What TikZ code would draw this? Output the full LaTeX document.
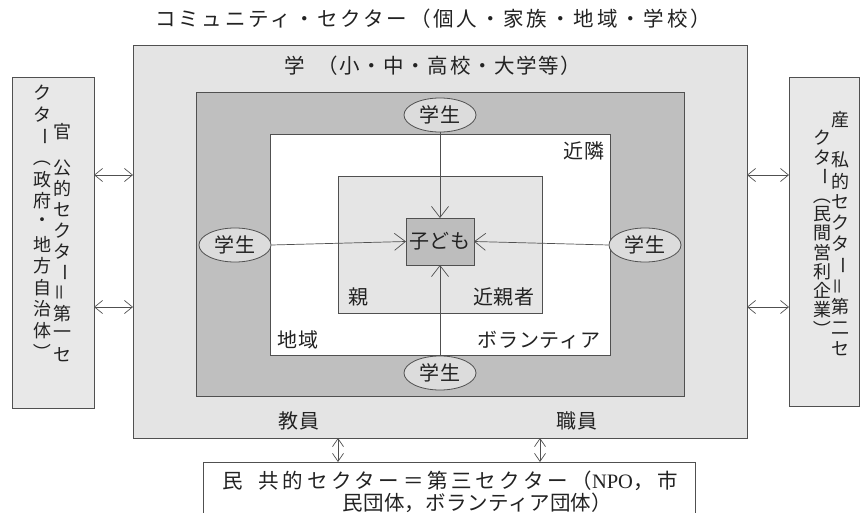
\documentclass[tikz,border=0pt]{standalone}
\usepackage{fontspec}
\setmainfont{Noto Sans CJK JP}
\newfontfamily\latinfont{Liberation Serif}
\usepackage{graphicx}
\usetikzlibrary{arrows.meta,shapes.geometric}
\definecolor{linec}{HTML}{505050}
\definecolor{txtc}{HTML}{222222}
\definecolor{outerfill}{HTML}{E4E4E4}
\definecolor{darkfill}{HTML}{BFBFBF}
\definecolor{oyafill}{HTML}{E5E5E5}
\definecolor{kidfill}{HTML}{BDBDBD}
\definecolor{sidefill}{HTML}{E8E8E8}
\definecolor{ellfill}{HTML}{DCDCDC}
\newcommand\VBar{\rotatebox[origin=c]{-90}{ー}}
\newcommand\VEq{\rotatebox[origin=c]{90}{＝}}
\newcommand\VPl{\rotatebox[origin=c]{-90}{（}}
\newcommand\VPr{\rotatebox[origin=c]{-90}{）}}
\newcommand\tfont{\fontsize{20.5}{24}\selectfont\addfontfeature{LetterSpace=14}}
\newcommand\mafont{\fontsize{20.5}{24}\selectfont\addfontfeature{LetterSpace=18}}
\newcommand\mbfont{\fontsize{20.5}{24}\selectfont\addfontfeature{LetterSpace=2}}
\newcommand\gfont{\fontsize{20.5}{24}\selectfont\addfontfeature{LetterSpace=8}}
\newcommand\lfont{\fontsize{20}{24}\selectfont\addfontfeature{LetterSpace=4}}
\newcommand\sfont{\fontsize{18}{20}\selectfont}
\tikzset{
  box/.style={draw=linec, line width=0.8pt, inner sep=0pt, outer sep=0pt, anchor=north west},
  lbl/.style={inner sep=0pt, text=txtc, font=\lfont},
  vch/.style={inner sep=0pt, text=txtc, font=\sfont},
  stud/.style={ellipse, draw=linec, line width=0.8pt, fill=ellfill, minimum width=72pt, minimum height=34pt, inner sep=0pt, text=txtc, font=\lfont},
  arr/.style={draw=linec, line width=0.7pt, -{Straight Barb[length=11pt,width=17pt,line width=0.7pt]}},
  darr/.style={draw=linec, line width=0.7pt, {Straight Barb[length=8pt,width=13pt,line width=0.7pt]}-{Straight Barb[length=8pt,width=13pt,line width=0.7pt]}},
  varr/.style={draw=linec, line width=0.7pt, {Straight Barb[length=8pt,width=11pt,line width=0.7pt]}-{Straight Barb[length=8pt,width=11pt,line width=0.7pt]}}
}
\begin{document}
\begin{tikzpicture}[x=1pt,y=-1pt]
\clip (0,0) rectangle (862,513);
\fill[white] (0,0) rectangle (862,513);
% title
\node[lbl, font=\tfont] (title) at (433,19) {コミュニティ・セクター（個人・家族・地域・学校）};
% boxes
\node[box, fill=outerfill, minimum width=614pt, minimum height=393pt] (gaku) at (133,45) {};
\node[box, fill=darkfill, minimum width=488pt, minimum height=304pt] (dark) at (196,92) {};
\node[box, fill=white, minimum width=340pt, minimum height=221pt] (chiiki) at (270,134) {};
\node[box, fill=oyafill, minimum width=204pt, minimum height=137pt] (oya) at (338,176) {};
\node[box, fill=kidfill, minimum width=68pt, minimum height=47pt] (kid) at (406,218) {};
\node[lbl] (kidlbl) at (kid.center) {子ども};
\node[box, fill=sidefill, minimum width=82pt, minimum height=331pt] (kan) at (12,77) {};
\node[box, fill=sidefill, minimum width=70pt, minimum height=329pt] (san) at (789,77) {};
\node[box, fill=white, minimum width=492pt, minimum height=70pt] (min) at (203,462) {};
% labels
\node[lbl, font=\gfont] (gakulbl) at (433,66) {学\hspace{12pt}（小・中・高校・大学等）};
\node[lbl] (kinrin) at (584,151) {近隣};
\node[lbl] (oyalbl) at (358,297) {親};
\node[lbl] (kinshin) at (504,297) {近親者};
\node[lbl] (chiikilbl) at (298,340) {地域};
\node[lbl] (vol) at (539,340) {ボランティア};
\node[lbl] (kyoin) at (299,421) {教員};
\node[lbl] (shokuin) at (577,421) {職員};
% students
\node[stud] (st1) at (440,115) {学生};
\node[stud] (st2) at (235,245) {学生};
\node[stud] (st3) at (645,245) {学生};
\node[stud] (st4) at (440,373) {学生};
% arrows to child
\draw[arr] (st1.south) -- (kid.north);
\draw[arr] (st2.east) -- (kid.west);
\draw[arr] (st3.west) -- (kid.east);
\draw[arr] (st4.north) -- (kid.south);
% side arrows
\draw[darr] (kan.east |- 0,175) -- (gaku.west |- 0,175);
\draw[darr] (kan.east |- 0,307) -- (gaku.west |- 0,307);
\draw[darr] (gaku.east |- 0,175) -- (san.west |- 0,175);
\draw[darr] (gaku.east |- 0,307) -- (san.west |- 0,307);
\draw[varr] (gaku.south -| 338,0) -- (min.north -| 338,0);
\draw[varr] (gaku.south -| 540,0) -- (min.north -| 540,0);
% bottom text
\node[lbl, font=\mafont, anchor=west] (minA) at (222,481) {民\hspace{16pt}共的セクター＝第三セクター（{\latinfont NPO}，市};
\node[lbl, font=\mbfont, anchor=west] (minB) at (342,503) {民団体，ボランティア団体）};
% vertical texts, left box
\node[vch] (kanH) at (62,132) {官};
\foreach \ch [count=\i from 0] in {公,的,セ,ク,タ,\VBar,\VEq,第,一,セ}
  \node[vch] (kanR\i) at (62,168+\i*20.8) {\ch};
\foreach \ch [count=\i from 0] in {ク,タ,\VBar,\VPl,政,府,・,地,方,自,治,体,\VPr}
  \node[vch] (kanL\i) at (42,93+\i*21.6) {\ch};
% vertical texts, right box
\node[vch] (sanH) at (840,120) {産};
\foreach \ch [count=\i from 0] in {私,的,セ,ク,タ,\VBar,\VEq,第,二,セ}
  \node[vch] (sanR\i) at (840,160+\i*21) {\ch};
\foreach \ch [count=\i from 0] in {ク,タ,\VBar,\VPl,民,間,営,利,企,業,\VPr}
  \node[vch] (sanL\i) at (822,138+\i*19.1) {\ch};
\end{tikzpicture}
\end{document}
